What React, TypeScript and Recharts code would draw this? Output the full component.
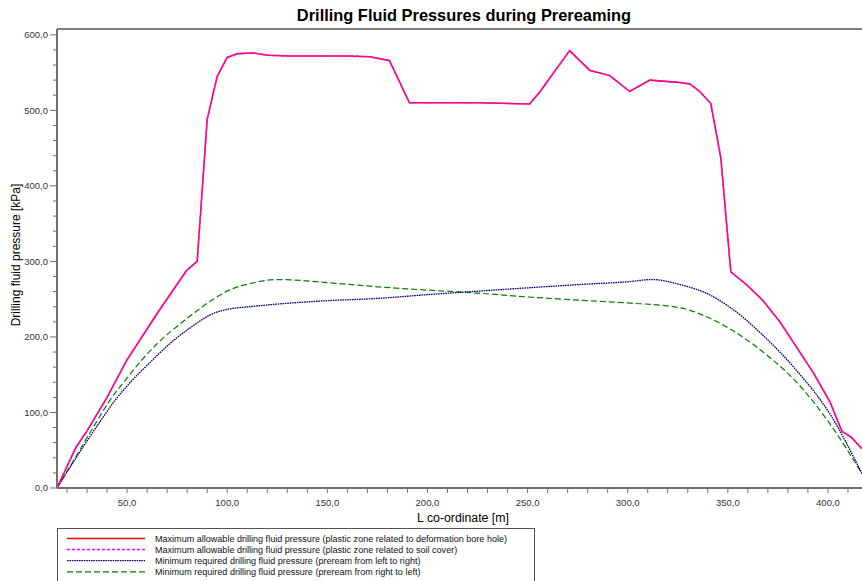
import React from "react";
import { LineChart, Line, XAxis, YAxis, ReferenceLine, Legend } from "recharts";

// Maximum allowable pressure (both "max" series share the same curve)
const maxX = [15, 24.5, 30.1, 40, 49.8, 65, 79.7, 85, 90, 95, 100, 105, 113, 120, 131, 160, 171, 181, 191, 226, 251, 256, 271, 281, 291, 301, 311, 326, 331, 336, 341.5, 346.5, 351.5, 359, 367.6, 376, 384.3, 392.6, 401, 407, 411.7, 417];
const maxY = [0, 54, 76, 120, 169, 231, 288, 300, 488, 545, 570, 575, 576, 573, 572, 572, 571, 566, 510, 510, 508.5, 524, 579, 553, 546, 525, 540, 537, 535, 525, 509, 437, 286, 270, 248, 220, 186.5, 153, 114, 75, 67, 52];

// Minimum required pressure, preream left to right
const minLRX = [15, 25, 35, 44, 52, 61.4, 70, 79.7, 94.7, 100, 111, 125, 150, 175, 200, 218, 250, 280, 300, 312, 326, 340, 351, 367.6, 384.3, 400.9, 417];
const minLRY = [0, 42, 82, 116, 141, 166, 188, 208.6, 232.8, 236.5, 240, 243.5, 248, 251, 256, 259.3, 265, 270, 273, 276, 269.4, 257, 239.4, 202, 155.7, 98.4, 19];

// Minimum required pressure, preream right to left
const minRLX = [15, 25, 33, 41.4, 49.8, 57.2, 65, 79.7, 94.7, 101, 111, 125, 150, 171, 200, 218, 250, 280, 300, 326, 340, 351, 367.6, 384.3, 400.9, 417];
const minRLY = [0, 44, 80, 116, 145, 169, 191, 224, 252.6, 262, 270.4, 276, 272, 267.2, 262, 259.3, 253, 248, 245, 238.6, 226, 210.8, 180, 140.2, 85.2, 19];

const xTicks = [20, 30, 40, 50, 60, 70, 80, 90, 100, 110, 120, 130, 140, 150, 160, 170, 180, 190, 200, 210, 220, 230, 240, 250, 260, 270, 280, 290, 300, 310, 320, 330, 340, 350, 360, 370, 380, 390, 400, 410];
const yTicks = [0, 20, 40, 60, 80, 100, 120, 140, 160, 180, 200, 220, 240, 260, 280, 300, 320, 340, 360, 380, 400, 420, 440, 460, 480, 500, 520, 540, 560, 580, 600];

const legendLabels = [
  "Maximum allowable drilling fluid pressure (plastic zone related to deformation bore hole)",
  "Maximum allowable drilling fluid pressure (plastic zone related to soil cover)",
  "Minimum required drilling fluid pressure (preream from left to right)",
  "Minimum required drilling fluid pressure (preream from right to left)",
];

const X_MIN = 15;
const X_MAX = 417;
const Y_MAX = 607.7;

const toPts = (xs: number[], ys: number[]) => xs.map((x, i) => ({ x, y: ys[i] }));

const FONT = "'Liberation Sans', Arial, sans-serif";
const PLOT_LEFT = 57;
const PLOT_BOTTOM = 488;

const styles = [
  { color: "#ff0000", dash: undefined as string | undefined, width: 1.5 },
  { color: "#ff00ff", dash: "3 2", width: 1.5 },
  { color: "#00007a", dash: "1.6 0.8", width: 1.3 },
  { color: "#008000", dash: "6 3", width: 1.2 },
];

const XTick = (props: any) => {
  const { x, payload } = props;
  const v = payload.value;
  const major = v % 50 === 0;
  return (
    <g>
      <line x1={x} x2={x} y1={PLOT_BOTTOM} y2={PLOT_BOTTOM + 5} stroke="#707070" strokeWidth={1} />
      {major && (
        <text x={x} y={PLOT_BOTTOM + 18} textAnchor="middle" fontSize={9.5} fill="#333" fontFamily={FONT}>
          {v.toFixed(1).replace(".", ",")}
        </text>
      )}
    </g>
  );
};

const YTick = (props: any) => {
  const { y, payload } = props;
  const v = payload.value;
  const major = v % 100 === 0;
  return (
    <g>
      <line x1={PLOT_LEFT - (major ? 7 : 4)} x2={PLOT_LEFT} y1={y} y2={y} stroke="#707070" strokeWidth={1} />
      {major && (
        <text x={PLOT_LEFT - 9} y={y + 3.3} textAnchor="end" fontSize={9.5} fill="#333" fontFamily={FONT}>
          {v.toFixed(1).replace(".", ",")}
        </text>
      )}
    </g>
  );
};

const LegendBox = () => (
  <div
    style={{
      position: "absolute",
      left: 57,
      top: 528,
      width: 478,
      height: 60,
      border: "1px solid #555",
      background: "#fff",
      boxSizing: "border-box",
    }}
  >
    <svg width={478} height={60} style={{ position: "absolute", left: 0, top: 0 }}>
      {legendLabels.map((lab, i) => {
        const y = 9.5 + i * 11.1;
        const s = styles[i];
        return (
          <g key={i}>
            <line x1={9} x2={87} y1={y} y2={y} stroke={s.color} strokeWidth={s.width} strokeDasharray={s.dash} />
            <text x={97} y={y + 3.2} fontSize={9.05} fill="#111" fontFamily={FONT}>
              {lab}
            </text>
          </g>
        );
      })}
    </svg>
  </div>
);

export default function App() {
  return (
    <div style={{ position: "absolute", left: 0, top: 0, width: 862, height: 581, overflow: "hidden", background: "#fff" }}>
      <LineChart width={862} height={581} margin={{ top: 29, right: 0, bottom: 63, left: 27 }}>
        <text x={464} y={21} textAnchor="middle" fontSize={16.4} fontWeight="bold" fill="#000" fontFamily={FONT}>
          Drilling Fluid Pressures during Prereaming
        </text>
        <text x={463} y={522} textAnchor="middle" fontSize={12.3} fill="#000" fontFamily={FONT}>
          L co-ordinate [m]
        </text>
        <text x={20} y={255} textAnchor="middle" fontSize={12} fill="#000" fontFamily={FONT} transform="rotate(-90 20 255)">
          Drilling fluid pressure [kPa]
        </text>
        <XAxis
          type="number"
          dataKey="x"
          domain={[X_MIN, X_MAX]}
          ticks={xTicks}
          interval={0}
          height={30}
          allowDataOverflow
          axisLine={{ stroke: "#707070", strokeWidth: 2 }}
          tickLine={false}
          tick={<XTick />}
        />
        <YAxis
          type="number"
          dataKey="y"
          domain={[0, Y_MAX]}
          ticks={yTicks}
          interval={0}
          width={30}
          allowDataOverflow
          axisLine={{ stroke: "#707070", strokeWidth: 2 }}
          tickLine={false}
          tick={<YTick />}
        />
        <ReferenceLine y={Y_MAX} stroke="#000" strokeWidth={1} />
        <Line data={toPts(minRLX, minRLY)} dataKey="y" type="monotone" stroke={styles[3].color} strokeWidth={styles[3].width} strokeDasharray={styles[3].dash} dot={false} isAnimationActive={false} />
        <Line data={toPts(minLRX, minLRY)} dataKey="y" type="monotone" stroke={styles[2].color} strokeWidth={styles[2].width} strokeDasharray={styles[2].dash} dot={false} isAnimationActive={false} />
        <Line data={toPts(maxX, maxY)} dataKey="y" type="linear" stroke={styles[0].color} strokeWidth={styles[0].width} dot={false} isAnimationActive={false} />
        <Line data={toPts(maxX, maxY)} dataKey="y" type="linear" stroke={styles[1].color} strokeWidth={styles[1].width} strokeDasharray={styles[1].dash} dot={false} isAnimationActive={false} />
        <Legend layout="vertical" align="center" verticalAlign="middle" content={() => null} />
      </LineChart>
      <LegendBox />
    </div>
  );
}
